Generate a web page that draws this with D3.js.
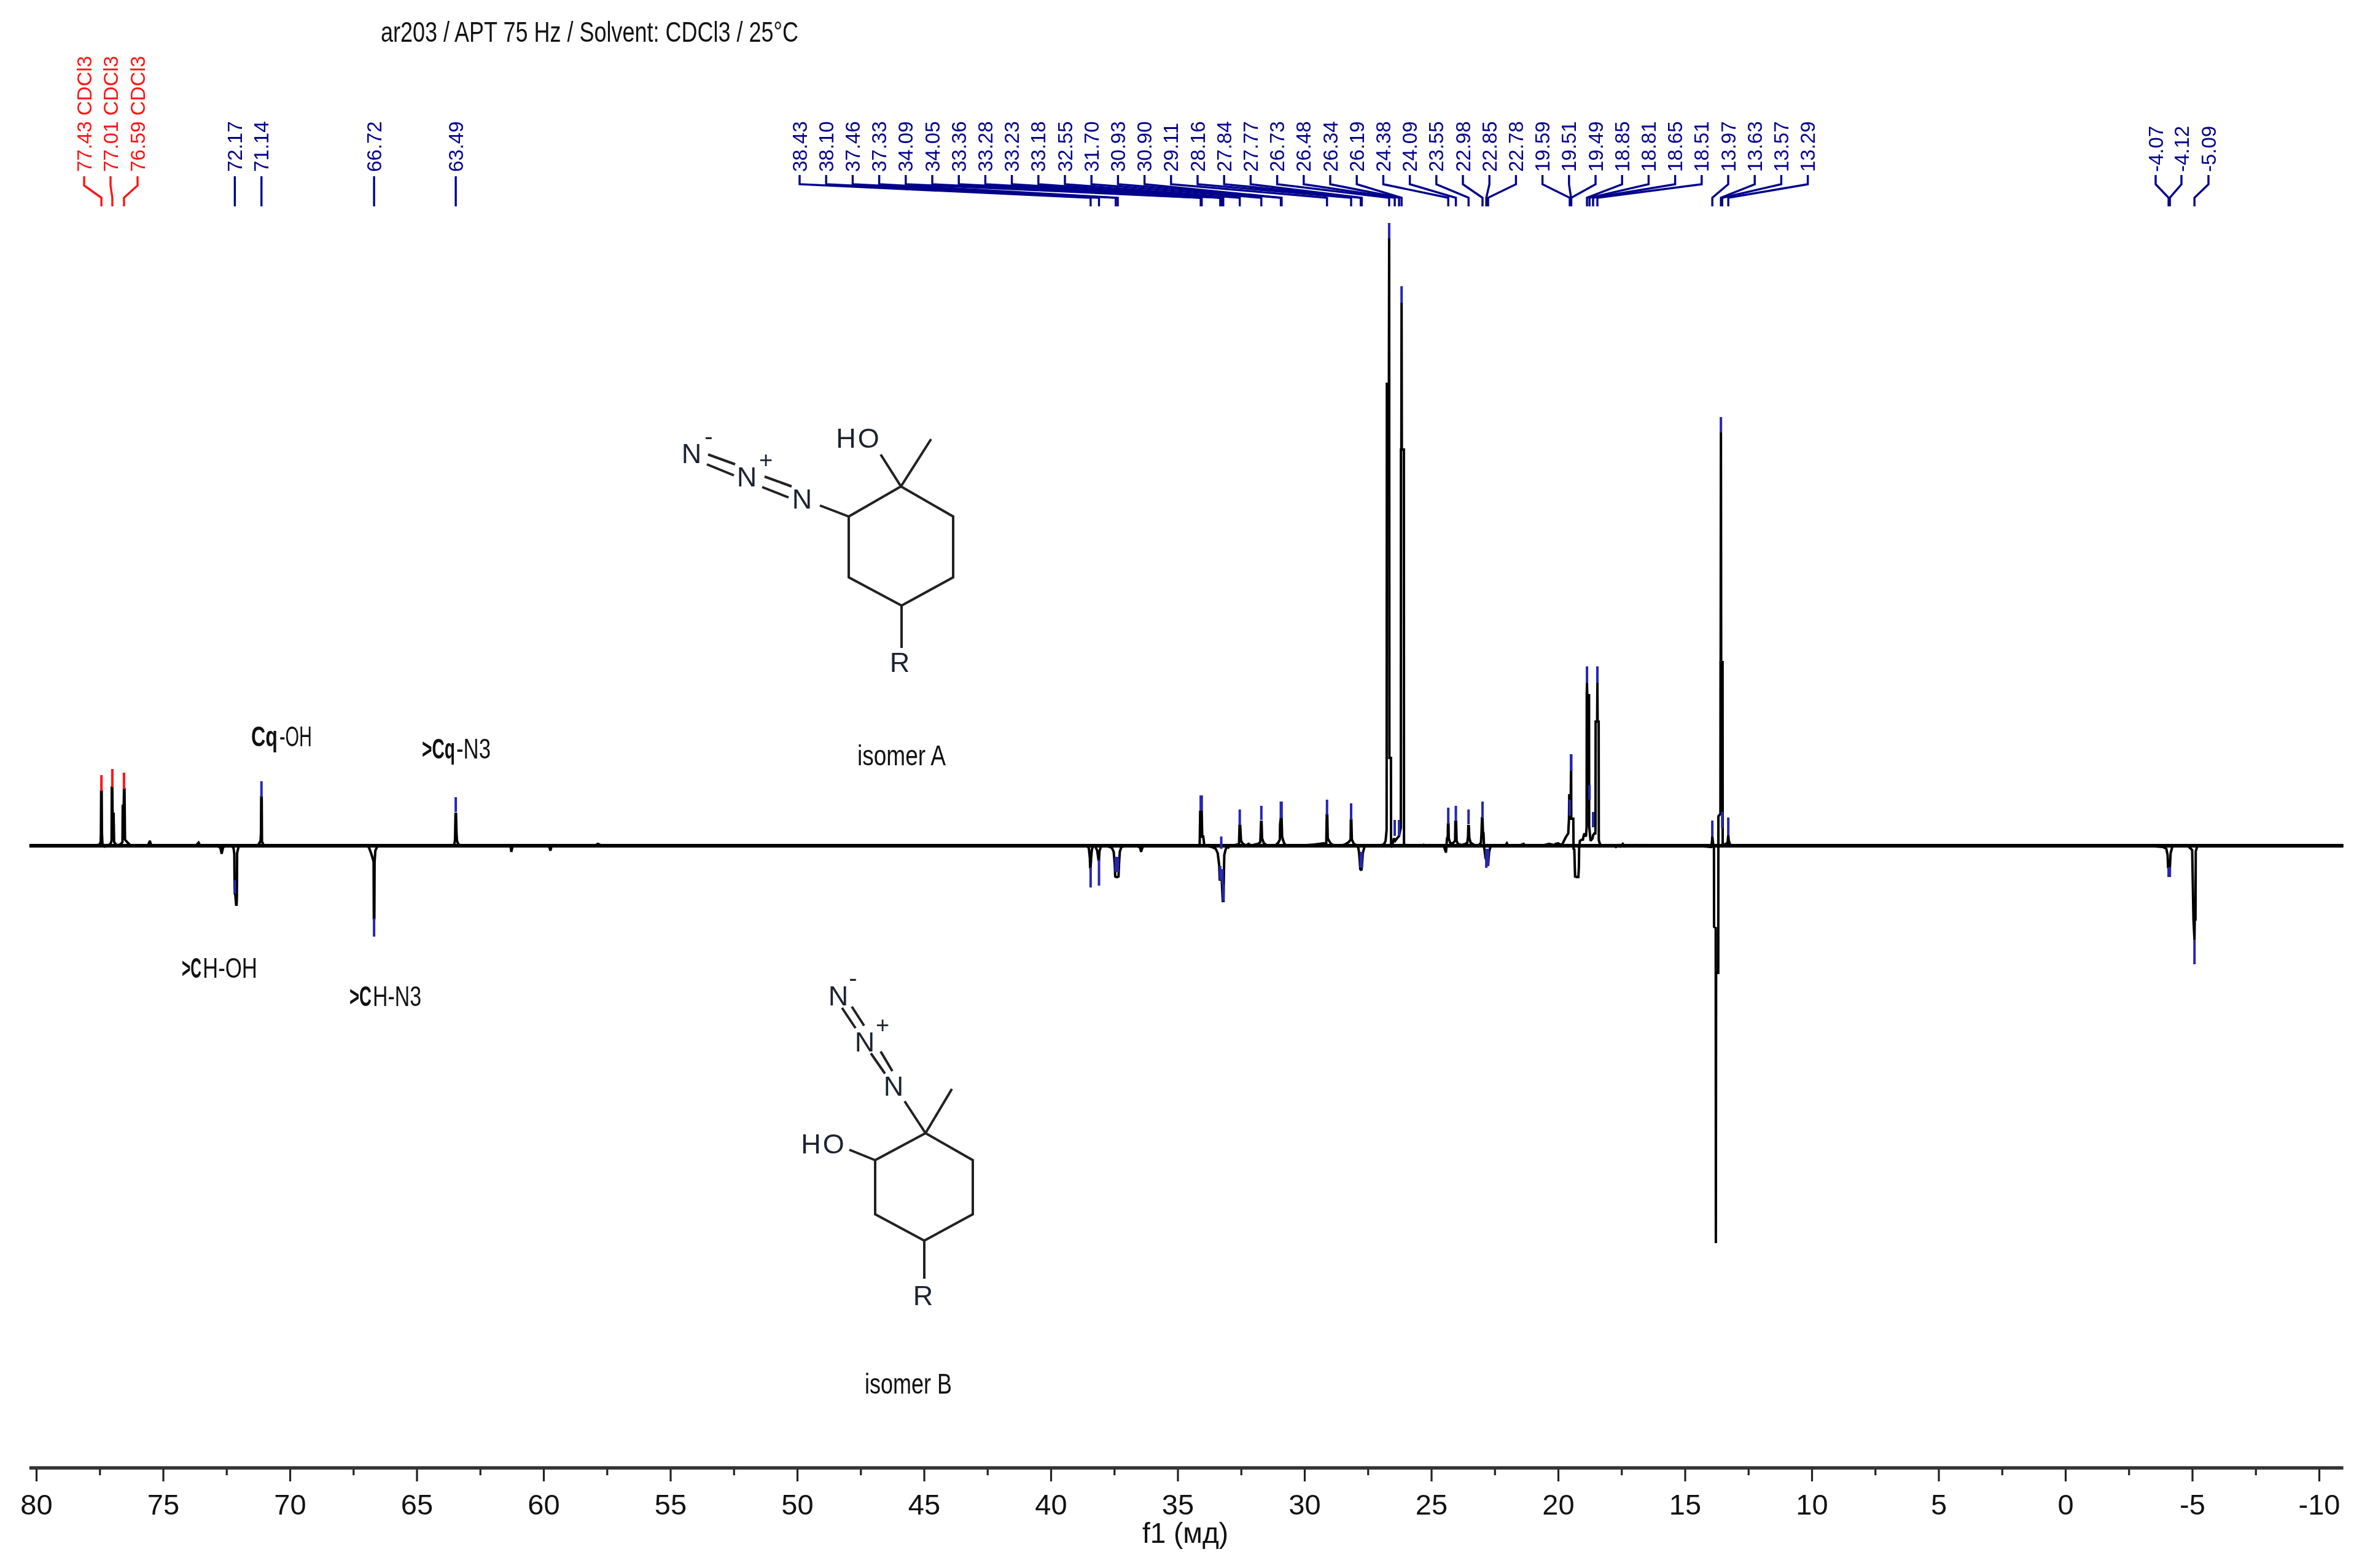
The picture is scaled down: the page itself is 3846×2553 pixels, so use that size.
<!DOCTYPE html>
<html><head><meta charset="utf-8">
<script src="https://cdn.jsdelivr.net/npm/d3@7"></script>
<style>html,body{margin:0;padding:0;background:#fff}svg{display:block;filter:blur(.7px)}</style>
</head><body><svg id="c" width="3846" height="2553" viewBox="0 0 3846 2553"></svg>
<script>
// ---- data ----
const titleText = "ar203 / APT 75 Hz / Solvent: CDCl3 / 25°C";
const axisTitle = "f1 (мд)";
const majorTicks = [80,75,70,65,60,55,50,45,40,35,30,25,20,15,10,5,0,-5,-10];
const minorTicks = [77.5,72.5,67.5,62.5,57.5,52.5,47.5,42.5,37.5,32.5,27.5,22.5,17.5,12.5,7.5,2.5,-2.5,-7.5];

const solventLabels = ["77.43 CDCl3","77.01 CDCl3","76.59 CDCl3"];
const solventPpm    = [77.43,77.0,76.54];
const solventTop    = [11.5,12.5,11.9];
const solventBottom = [8.9,9.5,9.2];

const singleLabels = ["72.17","71.14","66.72","63.49"];
const singlePpm    = [72.17,71.12,66.68,63.46];
const singleTop    = [-5.6,10.5,-11.8,7.9];
const singleBottom = [-7.8,7.9,-14.8,5.5];

const fanLabels = ["38.43","38.10","37.46","37.33","34.09","34.05","33.36","33.28","33.23","33.18","32.55","31.70","30.93","30.90","29.11","28.16","27.84","27.77","26.73","26.48","26.34","26.19","24.38","24.09","23.55","22.98","22.85","22.78","19.59","19.51","19.49","18.85","18.81","18.65","18.51","13.97","13.63","13.57","13.29"];
const fanPpm    = [38.43,38.10,37.44,37.36,34.09,34.05,33.32,33.28,33.23,33.20,32.55,31.70,30.93,30.90,29.11,28.16,27.78,27.74,26.66,26.44,26.27,26.17,24.33,24.03,23.53,22.98,22.83,22.76,19.54,19.49,19.48,18.86,18.76,18.62,18.45,13.92,13.58,13.53,13.29];
const fanTop    = [-3.5,-2.3,-1.8,-1.8,8.2,8.2,-3.3,1.5,-3.8,-6.3,5.9,6.5,7.2,7.2,7.5,6.9,-1,-1,101.4,4.2,4.2,91.1,6.2,6.5,5.9,7.2,-0.5,-0.5,7.5,14.9,14.9,29.2,9.9,5.5,29.2,4.1,69.8,5.5,4.6];
const fanBottom = [-6.8,-6.5,-4.3,-4.3,5.7,5.7,-5.6,-0.5,-6.3,-9,3.4,4.2,4.5,4.5,5,4.2,-3.6,-3.6,98.9,1.6,1.6,88.4,3.5,4,3.5,4.5,-3.6,-3.3,4.9,12.2,12.2,26.5,7.5,3,26.5,1.5,67.3,2.9,1.7];

const upfieldLabels = ["-4.07","-4.12","-5.09"];
const upfieldPpm    = [-4.07,-4.12,-5.09];
const upfieldTop    = [-3.5,-3.5,-15.3];
const upfieldBottom = [-5.1,-5.1,-19.3];

// spectrum trace: [ppm, intensity]
const trace = [[80.27,0],[80,-.1],[79.7,.05],[79.4,-.1],[79.1,.05],[78.8,-.1],[78.5,0],[78.2,-.1],[77.9,0],[77.6,.1],
[77.5,.2],[77.46,.6],[77.45,2],[77.44,8.9],[77.42,8.9],[77.41,2.2],[77.39,.3],[77.3,-.15],
[77.2,0],[77.07,.3],[77.03,.8],[77.02,9.5],[77,9.5],[76.99,5.2],[76.95,5.2],[76.93,.6],[76.85,.2],[76.78,.05],
[76.66,.3],[76.6,.6],[76.59,6.5],[76.55,6.5],[76.54,9.2],[76.52,9.2],[76.5,1],[76.42,.6],[76.32,.2],[76.2,0],
[76,-.1],[75.75,-.1],[75.6,0],[75.52,.8],[75.46,0],[75.2,-.1],[74.9,.05],[74.6,-.1],[74.3,0],[74,-.1],[73.7,.05],[73.6,.5],[73.54,.05],[73.2,-.05],[72.85,-.1],[72.74,-.3],[72.69,-1.3],[72.63,-.2],[72.45,0],
[72.3,0],[72.22,-.4],[72.19,-1.4],[72.18,-7],[72.17,-7.8],[72.15,-8],[72.12,-9.6],[72.1,-9.6],[72.09,-8.5],[72.08,-1.2],[72.02,-.1],[71.8,0],
[71.5,0],[71.25,.1],[71.18,.6],[71.16,.5],[71.14,2],[71.13,7.9],[71.11,7.9],[71.1,.7],[71.06,.3],[71,0],
[70.6,-.05],[70.2,0],[69.8,-.05],[69.4,0],[69,.05],[68.6,-.05],[68.2,.1],[67.9,-.05],[67.6,.05],[67.2,-.05],[66.95,0],[66.88,-.3],[66.8,-1.2],[66.74,-2],[66.7,-2.6],[66.69,-11.8],[66.67,-11.8],[66.66,-2.6],[66.63,-.8],[66.55,-.1],[66.4,0],
[66,.05],[65.7,-.05],[65.3,0],[65,.1],[64.7,0],[64.3,.05],[63.9,0],[63.6,.05],[63.52,.2],[63.49,.9],[63.47,5.2],[63.45,5.2],[63.43,2],[63.41,.8],[63.36,.2],
[63.2,0],[62.9,.05],[62.6,-.05],[62.3,0],[62,-.1],[61.8,0],[61.3,-.05],[61.27,-1],[61.22,-.05],[60.9,0],[60.5,-.1],[60.3,0],[59.9,-.1],[59.78,-.1],[59.73,-.8],[59.68,-.05],
[59.3,.05],[58.7,-.05],[58,0],[57.85,.3],[57.7,0],[57,-.05],[56.3,.05],[55.6,-.05],[55,0],[54.3,.05],[53.6,-.05],[53,0],[52.3,.05],[51.7,-.05],[51,0],[50.3,.05],[49.6,-.1],[49,0],[48.3,.05],[47.6,-.05],[47,0],[46.4,.05],[45.7,-.05],[45,0],[44.3,.05],[43.6,-.05],[43,0],[42.3,.05],[41.7,-.05],[41,0],[40.3,.05],[39.6,-.05],[39,0],
[38.7,0],[38.56,-.1],[38.5,-.4],[38.46,-2],[38.45,-3.5],[38.43,-3.5],[38.41,-2],[38.38,-.6],[38.33,-.1],[38.25,-.1],[38.17,-.8],[38.12,-2.3],[38.1,-2.3],[38.08,-.9],[38.02,-.1],[37.9,0],[37.75,-.1],[37.6,-.3],[37.52,-1],[37.48,-3],[37.46,-5],[37.42,-5.1],[37.38,-5.1],[37.33,-5],[37.31,-3],[37.28,-1],[37.22,-.2],[37.05,-.05],
[36.6,-.05],[36.48,-.3],[36.44,-1],[36.38,-.2],[36.25,0],[35.9,-.1],[35.6,0],[35.3,-.05],[35,-.1],[34.7,0],[34.4,.05],[34.2,.05],
[34.13,.2],[34.11,5.5],[34.09,5.5],[34.07,5.5],[34.05,5.5],[34.03,1.5],[33.99,1.5],[33.95,.1],[33.85,-.05],[33.65,-.2],[33.5,-.5],[33.42,-1.2],[33.36,-3.2],[33.34,-5.5],[33.3,-5.5],[33.26,-5.6],[33.22,-9],[33.19,-9],[33.18,-5.5],[33.16,-1.5],[33.12,-.8],[33.06,-.1],[33,-.3],[32.92,.1],[32.8,.05],[32.65,.2],[32.58,.2],[32.56,3.2],[32.53,3.2],[32.5,.8],[32.42,.3],[32.3,.05],[32.2,.3],[32.1,0],[31.95,.2],[31.82,.3],[31.74,.6],[31.71,3.9],[31.69,3.9],[31.67,1.2],[31.6,.4],[31.45,0],[31.3,-.1],[31.15,.05],[31.03,.5],[30.97,1],[30.96,3.5],[30.93,4.5],[30.9,4.5],[30.88,1.5],[30.85,1],[30.8,.4],[30.7,-.1],[30.5,-.1],[30.2,.05],[29.9,.1],[29.6,.2],[29.4,.3],[29.25,.4],[29.14,.3],[29.12,5],[29.1,5],[29.08,1.2],[29.03,.8],[28.95,.3],[28.8,.05],[28.55,.05],[28.4,.2],[28.25,.6],[28.18,1],[28.17,4.2],[28.15,4.2],[28.13,1],[28.05,.3],[27.95,.1],[27.88,-.3],[27.85,-1],[27.82,-2.4],[27.8,-3.8],[27.75,-4],[27.72,-2.5],[27.7,-1.2],
[27.62,0],[27.45,.1],[27.2,.1],[27,.1],[26.87,.2],[26.8,.8],[26.76,2.6],[26.75,75.2],[26.67,75.2],[26.66,98.9],[26.65,14.3],[26.59,14.3],[26.585,-.2],[26.55,-.1],[26.47,1.2],[26.42,.8],[26.35,1.2],[26.27,1.6],[26.22,2.6],[26.2,2.9],[26.195,64.5],[26.18,64.5],[26.17,88.4],[26.16,64.5],[26.08,64.5],[26.075,.3],[26.02,.1],[25.9,-.1],
[25.7,-.1],[25.45,.1],[25.4,-.05],[25.3,.15],[25.2,-.05],[25,.05],[24.8,-.1],[24.65,-.1],[24.5,-.1],[24.42,-1.1],[24.38,1.2],[24.35,1.5],[24.34,3.5],[24.32,3.5],[24.31,1.2],[24.25,.4],[24.15,.4],[24.06,.8],[24.05,3.9],[24.02,3.9],[24,.8],[23.95,.3],[23.8,.1],[23.65,.3],[23.58,.5],[23.55,1.5],[23.54,3.2],[23.52,3.2],[23.5,1.3],[23.45,.5],[23.3,.1],[23.12,.1],[23.04,.5],[23.02,2],[23,4.5],[22.98,4.5],[22.96,2],[22.94,2],[22.92,-.1],[22.86,-2],[22.83,-2.3],[22.79,-2.4],[22.76,-3.3],[22.72,-1],[22.66,-.1],[22.4,-.1],
[22.2,.1],[22.1,-.05],[22.02,.4],[21.96,-.1],[21.6,-.1],[21.36,.3],[21.3,-.1],[20.9,-.1],[20.55,.1],[20.35,.3],[20.15,.1],[20.1,.3],[20,.4],[19.85,.1],[19.78,.7],[19.72,1.2],
[19.68,1.5],[19.6,2],[19.57,4.4],[19.56,8.2],[19.5,8.2],[19.49,12.2],[19.485,12.2],[19.48,4.4],[19.4,4.4],[19.39,-.5],[19.36,-.6],[19.33,-5],[19.31,-5],[19.28,-5.1],[19.24,-5.1],[19.2,-5.1],[19.18,-3.5],[19.17,-.5],[19.14,.8],[19.05,1],[19.02,1],[19,1.5],[18.96,2],
[18.9,1.5],[18.875,3],[18.87,24.5],[18.86,26.5],[18.85,24.5],[18.78,24.5],[18.775,3.2],[18.72,.8],[18.68,1],[18.64,1.2],[18.62,1.7],[18.57,2],[18.53,2],[18.525,3],[18.52,20.2],[18.46,20.2],[18.45,26.5],[18.44,20.2],[18.4,20.2],[18.395,.9],[18.36,.4],[18.3,0],
[18.2,0],[18,0],[17.8,.1],[17.72,-.2],[17.6,.1],[17.55,-.1],[17.45,.3],[17.38,-.1],[17.2,0],[17,-.1],[16.9,.1],[16.8,-.1],[16.7,.1],[16.6,-.1],[16.45,.1],[16.3,-.05],[16.1,-.1],[15.8,-.05],[15.5,-.1],[15.2,-.1],[14.9,-.05],[14.6,-.1],[14.3,-.1],[14.1,-.15],[14,-.2],
[13.96,-.2],[13.93,.8],[13.92,1.5],[13.9,.8],[13.88,0],[13.855,-.1],[13.85,-13.2],[13.785,-13.4],[13.78,-64.7],[13.77,-20.7],[13.685,-20.7],[13.68,4.8],[13.6,5.2],[13.595,29.9],[13.59,29.9],[13.58,67.3],[13.57,29.9],[13.515,29.9],[13.51,.2],[13.46,.1],[13.4,.3],[13.32,.4],[13.29,1.7],[13.27,.8],[13.22,.2],[13.15,0],[13,-.1],[12.8,-.1],[12.5,0],
[12.2,-.1],[11.8,0],[11.4,-.05],[11,.05],[10.5,-.05],[10,0],[9.5,-.05],[9,.05],[8.4,-.05],[7.8,0],[7.2,.05],[6.6,-.05],[6,0],[5.4,.05],[4.8,-.05],[4.2,0],[3.6,.05],[3,-.05],[2.4,0],[1.8,.05],[1.2,-.05],[.6,0],[0,.05],[-.6,-.05],[-1.2,0],[-1.8,.05],[-2.4,-.05],[-3,0],[-3.5,-.1],[-3.85,-.2],
[-3.98,-.5],[-4.03,-1.5],[-4.05,-3.5],[-4.1,-3.5],[-4.12,-3.6],[-4.15,-1.2],[-4.22,-.1],[-4.5,0],[-4.85,-.1],[-5,-.7],[-5.05,-12],[-5.09,-15.3],[-5.1,-12],[-5.13,-12],[-5.14,-.9],[-5.2,-.1],[-5.5,0],[-6,-.05],[-6.6,.05],[-7.2,-.05],[-7.8,0],[-8.4,.05],[-9,-.05],[-9.6,0],[-10.2,.05],[-10.96,0]];

// ---- scales ----
const x = d3.scaleLinear().domain([80,-10]).range([59,3776]);
const y = d3.scaleLinear().domain([0,100]).range([1377,377]);
const svg = d3.select("#c");
const SANS = "'Liberation Sans',Arial,sans-serif";
const NARROW = "'Liberation Sans Narrow','Liberation Sans',Arial,sans-serif";
const NAVY = "#00008c", TIP = "#2626b4", RED = "#ff1414";

// ---- title ----
svg.append("text").attr("x",620).attr("y",68).attr("font-family",NARROW).attr("font-size",46)
  .attr("textLength",680).attr("lengthAdjust","spacingAndGlyphs").attr("fill","#111").text(titleText);

// ---- spectrum ----
svg.append("line").attr("x1",x(80.27)).attr("x2",x(-10.96)).attr("y1",y(0)).attr("y2",y(0))
  .attr("stroke","#000").attr("stroke-width",6);
svg.append("path").datum(trace).attr("fill","none").attr("stroke","#000").attr("stroke-width",4)
  .attr("stroke-linejoin","miter").attr("stroke-miterlimit",2)
  .attr("d",d3.line().x(d=>x(d[0])).y(d=>y(d[1])));

// ---- peak-pick groups ----
function picks(labels,ppm,top,bottom,labelX,colour,tipColour,ys,textBottom){
  const rows = labels.map((t,i)=>({t,p:ppm[i],top:top[i],bot:bottom[i],lx:labelX(i,ppm[i])}));
  const g = svg.append("g");
  g.selectAll("path.c").data(rows).join("path").attr("class","c").attr("fill","none")
    .attr("stroke",colour).attr("stroke-width",3.4)
    .attr("d",d=>`M${d.lx},${ys[0]}V${ys[1]}L${x(d.p)},${ys[2]}V${ys[3]}`);
  g.selectAll("line.t").data(rows).join("line").attr("class","t")
    .attr("x1",d=>x(d.p)).attr("x2",d=>x(d.p)).attr("y1",d=>y(d.top)).attr("y2",d=>y(d.bot))
    .attr("stroke",tipColour).attr("stroke-width",4);
  g.selectAll("text").data(rows).join("text")
    .attr("transform",d=>`translate(${d.lx},${textBottom}) rotate(-90)`)
    .attr("dy","0.35em").attr("font-family",SANS).attr("font-size",33).attr("fill",colour).text(d=>d.t);
}
const solventLabelX = [137,180,224], upfieldLabelX = [3510,3552,3596];
picks(solventLabels,solventPpm,solventTop,solventBottom,i=>solventLabelX[i],RED,RED,[287,302,322,336],280);
picks(singleLabels,singlePpm,singleTop,singleBottom,(i,p)=>x(p),NAVY,TIP,[287,302,322,336],280);
picks(fanLabels,fanPpm,fanTop,fanBottom,i=>1302+i*43.2,NAVY,TIP,[285,300,322,336],280);
picks(upfieldLabels,upfieldPpm,upfieldTop,upfieldBottom,i=>upfieldLabelX[i],NAVY,TIP,[285,300,322,336],280);

// ---- axis ----
const axisY = 2390;
const minor = d3.axisBottom(x).tickValues(minorTicks).tickSize(12).tickFormat("");
const major = d3.axisBottom(x).tickValues(majorTicks).tickSize(22).tickPadding(21).tickFormat(d=>String(d));
const gMinor = svg.append("g").attr("transform",`translate(0,${axisY})`).call(minor);
const gMajor = svg.append("g").attr("transform",`translate(0,${axisY})`).call(major);
[gMinor,gMajor].forEach(g=>{g.select(".domain").remove();g.selectAll("line").attr("stroke","#222").attr("stroke-width",3.2);});
gMajor.selectAll("text").attr("font-family",SANS).attr("font-size",47).attr("fill","#111");
svg.append("line").attr("x1",x(80.27)).attr("x2",x(-10.96)).attr("y1",axisY).attr("y2",axisY).attr("stroke","#333").attr("stroke-width",5.5);
svg.append("text").attr("x",1930).attr("y",2512).attr("text-anchor","middle").attr("font-family",SANS).attr("font-size",46).attr("fill","#111").text(axisTitle);

// ---- annotations: each run is its own text, condensed to its measured width ----
function note(parts,base){
  parts.forEach(([s,b,left,len])=>{
    const t = svg.append("text").attr("font-family",NARROW).attr("font-size",46)
      .attr("font-weight",b?"bold":"normal").attr("fill","#111").text(s);
    const natural = t.node().getComputedTextLength();
    t.attr("transform",`translate(${left},${base}) scale(${Math.min(1,len/natural)},1)`);
  });
}
note([["Cq",1,409,43],["-OH",0,455,53]],1215);
note([[">Cq",1,687,54],["-N3",0,743,56]],1235);
note([[">C",1,296,32],["H-OH",0,330,89]],1592);
note([[">C",1,569,36],["H-N3",0,607,79]],1638);
note([["isomer A",0,1396,144]],1246);
note([["isomer B",0,1408,142]],2269);

// ---- structures ----
const bond = d3.line();
function bonds(list){
  svg.append("g").selectAll("path").data(list).join("path").attr("fill","none").attr("stroke","#222")
    .attr("stroke-width",4).attr("stroke-linejoin","miter").attr("d",d=>bond(d));
}
function atoms(list){
  svg.append("g").selectAll("text").data(list).join("text").attr("x",d=>d[1]).attr("y",d=>d[2])
    .attr("text-anchor","middle").attr("font-family",SANS).attr("font-size",d=>d[3]||45).attr("fill","#1c2230")
    .attr("letter-spacing",d=>d[0]==="HO"?3:0).text(d=>d[0]);
}
bonds([
 [[1467,792],[1552,841],[1552,940],[1468,986],[1382,940],[1382,841],[1467,792]],
 [[1467,792],[1516,715]],[[1467,792],[1434,740]],[[1382,841],[1335,823]],[[1468,986],[1468,1055]],
 [[1153,740],[1197,756]],[[1151,756],[1195,774]],[[1245,776],[1289,792]],[[1241,793],[1284,810]],
 [[1507,1845],[1584,1889],[1584,1977],[1505,2020],[1425,1977],[1425,1889],[1507,1845]],
 [[1507,1845],[1550,1773]],[[1507,1845],[1473,1793]],[[1425,1889],[1383,1872]],[[1505,2020],[1505,2082]],
 [[1371,1641],[1393,1674]],[[1387,1639],[1407,1670]],[[1418,1715],[1441,1748]],[[1434,1712],[1453,1744]]
]);
atoms([
 ["HO",1398,729],["N",1126,754],["N",1216,792],["N",1306,828],["R",1465,1094],["+",1247,762,38],["-",1154,724,40],
 ["HO",1341,1878],["N",1365,1637],["N",1408,1712],["N",1455,1784],["R",1503,2125],["+",1437,1682,38],["-",1389,1606,40]
]);
</script></body></html>
